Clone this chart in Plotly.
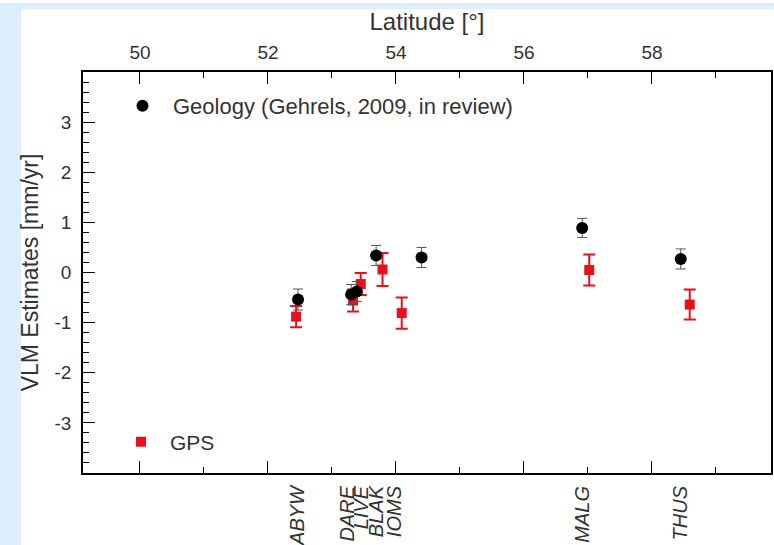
import plotly.graph_objects as go

# ---- data ----
station_names = ["ABYW", "DARE", "LIVE", "BLAK", "IOMS", "MALG", "THUS"]
station_lat = [52.46, 53.25, 53.46, 53.69, 53.98, 56.92, 58.45]

geo_lat = [52.47, 53.30, 53.39, 53.69, 54.40, 56.91, 58.45]
geo_vlm = [-0.54, -0.44, -0.38, 0.34, 0.30, 0.89, 0.27]
geo_err = [0.21, 0.20, 0.20, 0.20, 0.20, 0.19, 0.20]

gps_lat = [52.44, 53.33, 53.45, 53.79, 54.09, 57.02, 58.59]
gps_vlm = [-0.88, -0.56, -0.23, 0.06, -0.81, 0.05, -0.64]
gps_err = [0.21, 0.22, 0.22, 0.33, 0.31, 0.31, 0.30]

top_ticks = [50, 52, 54, 56, 58]
y_ticks = [-3, -2, -1, 0, 1, 2, 3]
y_tick_text = ["-3", "-2", "-1", "0", "1", "2", "3"]

x_range = [49.11, 59.86]
y_range = [-4.0, 4.0]

FONT = "Liberation Sans, Arial, Helvetica, sans-serif"
TXT = "#333333"
RED = "#E8101A"

fig = go.Figure()

fig.add_trace(go.Scatter(
    x=gps_lat, y=gps_vlm, mode="markers", name="GPS",
    marker=dict(symbol="square", size=10, color=RED),
    error_y=dict(type="data", array=gps_err, visible=True,
                 color=RED, thickness=2, width=6),
    legend="legend2", showlegend=True,
))
fig.add_trace(go.Scatter(
    x=geo_lat, y=geo_vlm, mode="markers",
    name="Geology (Gehrels, 2009, in review)",
    marker=dict(symbol="circle", size=12, color="black"),
    error_y=dict(type="data", array=geo_err, visible=True,
                 color="#555555", thickness=1, width=5),
    legend="legend", showlegend=True,
))
# empty traces so the overlay axes (top latitude axis, station labels) are drawn
fig.add_trace(go.Scatter(x=[], y=[], xaxis="x2", yaxis="y",
                         showlegend=False, hoverinfo="skip"))
fig.add_trace(go.Scatter(x=[], y=[], xaxis="x3", yaxis="y",
                         showlegend=False, hoverinfo="skip"))

W, H = 774, 545
ml, mr, mt, mb = 83, 3, 72, 72
pw, ph = W - ml - mr, H - mt - mb

def px(x):
    return (x - ml) / pw

def py(y):
    return (H - mb - y) / ph

fig.update_layout(
    width=W, height=H,
    margin=dict(l=ml, r=mr, t=mt, b=mb, autoexpand=False),
    paper_bgcolor="#DCEEFC",
    plot_bgcolor="white",
    font=dict(family=FONT, color=TXT, size=19),
    xaxis=dict(
        range=x_range, showline=True, linecolor="black", linewidth=1.5,
        mirror=False, ticks="inside", tickmode="linear", tick0=50, dtick=2,
        ticklen=12, tickwidth=1, tickcolor="black", showticklabels=False,
        minor=dict(ticks="inside", dtick=1, tick0=50, ticklen=6,
                   tickcolor="black", tickwidth=1),
        showgrid=False, zeroline=False,
    ),
    xaxis2=dict(
        range=x_range, overlaying="x", side="top", anchor="y",
        showline=True, linecolor="black", linewidth=1.5,
        ticks="inside", tickmode="array", tickvals=top_ticks,
        ticktext=[str(t) for t in top_ticks],
        ticklen=12, tickwidth=1, tickcolor="black",
        minor=dict(ticks="inside", dtick=1, tick0=50, ticklen=6,
                   tickcolor="black", tickwidth=1),
        tickfont=dict(size=19, color=TXT), ticklabelstandoff=4,
        title=dict(text="Latitude [°]", font=dict(size=24, color=TXT), standoff=4),
        showgrid=False, zeroline=False, automargin=False,
    ),
    xaxis3=dict(
        range=x_range, overlaying="x", side="bottom", anchor="y",
        showline=False, ticks="", tickmode="array",
        tickvals=station_lat, ticktext=station_names, tickangle=-90,
        tickfont=dict(size=20, color=TXT, style="italic"),
        ticklabelstandoff=8,
        showgrid=False, zeroline=False, automargin=False,
    ),
    yaxis=dict(
        range=y_range, showline=True, linecolor="black", linewidth=1.5,
        mirror=True, ticks="inside", tickmode="array", tickvals=y_ticks,
        ticktext=y_tick_text,
        ticklen=12, tickwidth=1, tickcolor="black",
        minor=dict(ticks="inside", dtick=0.2, tick0=0, ticklen=6,
                   tickcolor="black", tickwidth=1),
        tickfont=dict(size=19, color=TXT), ticklabelstandoff=6,
        title=dict(text="VLM Estimates [mm/yr]", font=dict(size=23, color=TXT),
                   standoff=9),
        showgrid=False, zeroline=False, automargin=False,
    ),
    legend=dict(
        x=px(112), y=py(106), xanchor="left", yanchor="middle",
        bgcolor="rgba(0,0,0,0)", font=dict(size=22, color=TXT),
        itemwidth=51,
    ),
    legend2=dict(
        x=px(112), y=py(442), xanchor="left", yanchor="middle",
        bgcolor="rgba(0,0,0,0)", font=dict(size=21, color=TXT),
        itemwidth=48,
    ),
    shapes=[
        dict(type="rect", xref="paper", yref="paper", layer="below",
             x0=px(21), x1=px(W + 5), y0=py(H + 5), y1=py(9),
             fillcolor="white", line=dict(width=0)),
        dict(type="rect", xref="paper", yref="paper", layer="below",
             x0=px(-5), x1=px(W + 5), y0=py(3), y1=py(-5),
             fillcolor="white", line=dict(width=0)),
    ],
)

fig.write_html("out.html")
